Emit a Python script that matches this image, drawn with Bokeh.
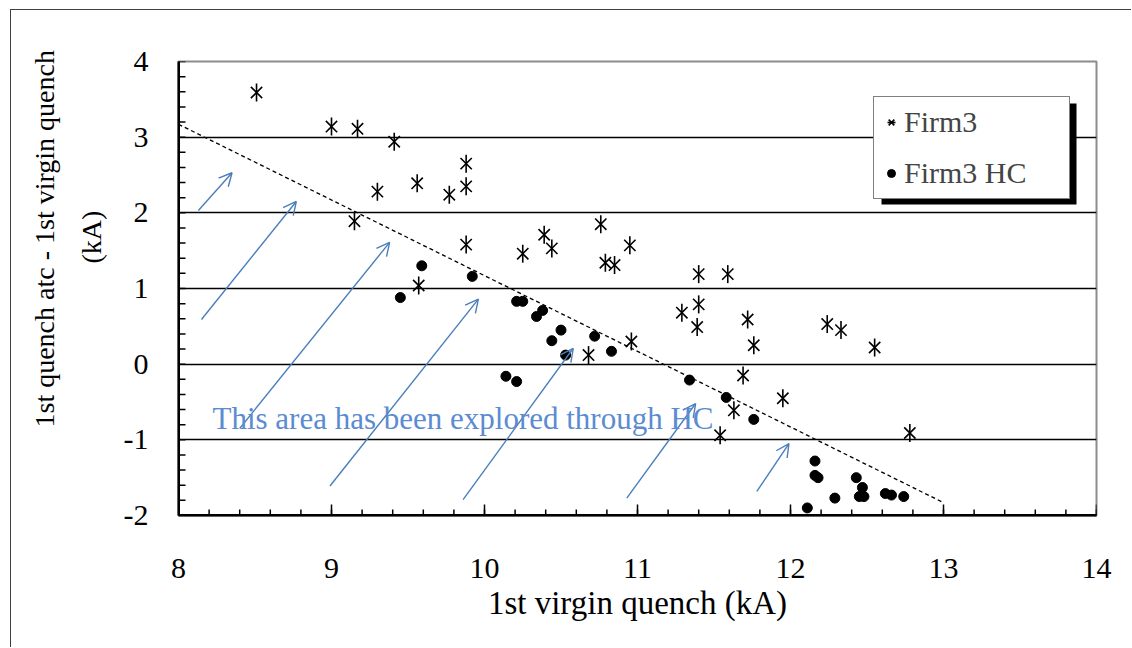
import numpy as np
from bokeh.plotting import figure
from bokeh.models import (Range1d, Legend, LegendItem, Arrow, OpenHead, Label,
                          BoxAnnotation, FixedTicker, ColumnDataSource, Title,
                          CustomJSTickFormatter, Span)
from bokeh.layouts import column
from bokeh.embed import file_html
from bokeh.resources import INLINE

# ---- data ----
firm3_x = [8.51, 9.00, 9.17, 9.41, 9.88, 9.30, 9.56, 9.77, 9.88, 9.15, 9.88, 9.57,
           10.25, 10.39, 10.44, 10.76, 10.79, 10.85, 10.95, 11.40, 11.59, 11.29,
           11.40, 11.39, 11.72, 11.76, 12.24, 12.33, 12.55, 10.68, 10.96, 11.69,
           11.95, 11.63, 11.54, 12.78]
firm3_y = [3.59, 3.14, 3.11, 2.94, 2.65, 2.28, 2.39, 2.24, 2.35, 1.89, 1.58, 1.04,
           1.46, 1.71, 1.53, 1.85, 1.34, 1.31, 1.57, 1.19, 1.19, 0.68,
           0.79, 0.49, 0.59, 0.25, 0.53, 0.45, 0.22, 0.12, 0.30, -0.15,
           -0.45, -0.61, -0.94, -0.91]
hc_x = [9.45, 9.59, 9.92, 10.21, 10.25, 10.38, 10.34, 10.50, 10.44, 10.53, 10.72,
        10.83, 10.14, 10.21, 11.34, 11.58, 11.76, 12.16, 12.16, 12.18, 12.43,
        12.47, 12.45, 12.48, 12.29, 12.62, 12.66, 12.74, 12.11]
hc_y = [0.88, 1.30, 1.16, 0.83, 0.83, 0.71, 0.63, 0.45, 0.31, 0.12, 0.37,
        0.17, -0.16, -0.23, -0.21, -0.44, -0.73, -1.28, -1.47, -1.50, -1.50,
        -1.63, -1.75, -1.75, -1.77, -1.71, -1.73, -1.75, -1.90]
trend_x = [8.0, 13.0]
trend_y = [3.17, -1.83]
arrow_x0 = [8.13, 8.15, 8.40, 8.99, 9.86, 10.93, 11.78]
arrow_y0 = [2.03, 0.59, -0.85, -1.61, -1.79, -1.77, -1.68]
arrow_x1 = [8.35, 8.77, 9.38, 9.96, 10.58, 11.38, 11.99]
arrow_y1 = [2.53, 2.15, 1.61, 0.86, 0.21, -0.52, -1.05]
x_ticks = [8, 9, 10, 11, 12, 13, 14]
y_ticks = [-2, -1, 0, 1, 2, 3, 4]
minor_step = 0.2
note_text = "This area has been explored through HC"
x_title = "1st virgin quench (kA)"
y_title_1 = "1st quench atc - 1st virgin quench"
y_title_2 = "(kA)"

FONT = "Liberation Serif"
BLUE = "#4A7EBB"
TEXT_BLUE = "#5B8BD0"
TICK_COLOR = "black"

X0, X1, Y0, Y1 = 8, 14, -2, 4
FRAME_W, FRAME_H = 918, 454

p = figure(width=1120, height=637, x_range=Range1d(X0, X1), y_range=Range1d(Y0, Y1),
           output_backend="svg", toolbar_location=None,
           min_border_left=167, min_border_right=35, min_border_top=51,
           min_border_bottom=132)
p.background_fill_color = "white"
p.border_fill_color = "white"
p.outline_line_color = "#8c8c8c"
p.outline_line_width = 2

p.xgrid.visible = False
p.ygrid.ticker = FixedTicker(ticks=y_ticks[1:-1])
p.ygrid.grid_line_color = "black"
p.ygrid.grid_line_width = 1.3

fmt = CustomJSTickFormatter(code="return tick.toFixed(0);")
p.xaxis.ticker = FixedTicker(ticks=x_ticks)
p.yaxis.ticker = FixedTicker(ticks=y_ticks)
for ax in (p.xaxis[0], p.yaxis[0]):
    ax.formatter = fmt
    ax.axis_line_color = "black"
    ax.axis_line_width = 2
    ax.major_tick_in = 0
    ax.major_tick_out = 0
    ax.minor_tick_in = 0
    ax.minor_tick_out = 0
    ax.major_label_text_font = FONT
    ax.major_label_text_font_size = "30px"
    ax.major_label_text_color = "black"
p.yaxis.major_label_standoff = 30
p.xaxis.major_label_standoff = 43
p.xaxis.axis_label = x_title
p.xaxis.axis_label_text_font = FONT
p.xaxis.axis_label_text_font_size = "33px"
p.xaxis.axis_label_text_font_style = "normal"
p.xaxis.axis_label_text_color = "black"
p.xaxis.axis_label_standoff = 4

# y-axis title: two vertical title lines on the left side
t_kA = Title(text=y_title_2, align="left", offset=252, vertical_align="bottom",
             standoff=28, text_font=FONT, text_font_size="28px",
             text_font_style="normal", text_color="black")
t_main = Title(text=y_title_1, align="left", offset=88, vertical_align="bottom",
               standoff=0, text_font=FONT, text_font_size="28px",
               text_font_style="normal", text_color="black")
p.add_layout(t_kA, "left")
p.add_layout(t_main, "left")

# inward tick marks (drawn through the data scales)
xt_major = np.array(x_ticks, dtype=float)
xt_minor = np.round(np.arange(X0, X1 + 1e-9, minor_step), 2)
yt_minor = np.round(np.arange(Y0, Y1 + 1e-9, minor_step), 2)
ux = (X1 - X0) / FRAME_W   # data units per pixel
uy = (Y1 - Y0) / FRAME_H
tick_src_x = ColumnDataSource(dict(x=list(xt_minor), y0=[Y0] * len(xt_minor),
                                   y1=[Y0 + 6 * uy] * len(xt_minor)))
tick_src_X = ColumnDataSource(dict(x=list(xt_major), y0=[Y0] * len(xt_major),
                                   y1=[Y0 + 11 * uy] * len(xt_major)))
tick_src_y = ColumnDataSource(dict(y=list(yt_minor), x0=[X0] * len(yt_minor),
                                   x1=[X0 + 7 * ux] * len(yt_minor)))
p.segment(x0="x", y0="y0", x1="x", y1="y1", source=tick_src_x,
          line_color=TICK_COLOR, line_width=1.5)
p.segment(x0="x", y0="y0", x1="x", y1="y1", source=tick_src_X,
          line_color=TICK_COLOR, line_width=1.5)
p.segment(x0="x0", y0="y", x1="x1", y1="y", source=tick_src_y,
          line_color=TICK_COLOR, line_width=1.5)

# left and bottom axis lines in black over the grey outline
p.add_layout(Span(location=X0, dimension="height", line_color="black", line_width=3))
p.add_layout(Span(location=Y0, dimension="width", line_color="black", line_width=3))

# trend line
p.line(trend_x, trend_y, line_color="black", line_width=1.3, line_dash="4 3")

# arrows
asrc = ColumnDataSource(dict(x0=arrow_x0, y0=arrow_y0, x1=arrow_x1, y1=arrow_y1))
p.add_layout(Arrow(x_start="x0", y_start="y0", x_end="x1", y_end="y1", source=asrc,
                   line_color=BLUE, line_width=1.4,
                   end=OpenHead(size=13, line_color=BLUE, line_width=1.4)))

p.add_layout(Label(x=8.222, y=-0.716, text=note_text, text_color=TEXT_BLUE,
                   text_font=FONT, text_font_size="31px", text_baseline="middle"))

# data
rx = p.scatter(firm3_x, firm3_y, marker="x", size=16, line_color="black", line_width=1.6)
rv = p.scatter(firm3_x, firm3_y, marker="dash", angle=np.pi / 2, size=18,
               line_color="black", line_width=1.6)
rc = p.scatter(hc_x, hc_y, marker="circle", size=10, fill_color="black", line_color="black")

# legend shadow + legend
p.add_layout(BoxAnnotation(left=703, right=898, bottom=311, top=412,
                           left_units="screen", right_units="screen",
                           top_units="screen", bottom_units="screen",
                           fill_color="black", fill_alpha=1, line_color=None))
legend = Legend(items=[LegendItem(label="Firm3", renderers=[rx, rv]),
                       LegendItem(label="Firm3 HC", renderers=[rc])],
                location=(695, 316), margin=0, padding=7, spacing=15,
                glyph_width=20, glyph_height=36, label_height=36, label_width=158,
                label_standoff=3,
                label_text_font=FONT, label_text_font_size="30px",
                border_line_color="black", border_line_width=1.5,
                background_fill_color="white", background_fill_alpha=1)
p.add_layout(legend, "center")

layout = column(p, styles={"margin-left": "10px", "margin-top": "9px",
                           "border-left": "1.5px solid #404040",
                           "border-top": "1.5px solid #404040"})

open("out.html", "w").write(file_html(layout, INLINE))
